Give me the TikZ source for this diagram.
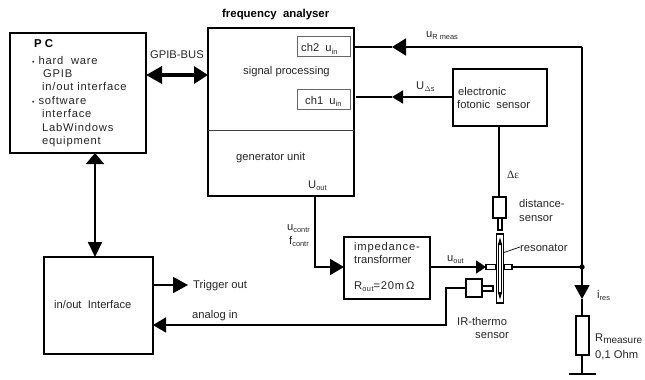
\documentclass[tikz,border=0pt]{standalone}
\usepackage{fontspec}
\usetikzlibrary{arrows.meta}
\setmainfont{Liberation Sans}
\newfontfamily\spaced[LetterSpace=7]{Liberation Sans}
\newfontfamily\serifsym{Liberation Serif}
\tikzset{
 x=1pt,y=-1pt,
 box/.style={draw,line width=1.6pt,fill=white,inner sep=0pt,outer sep=0pt},
 thinbox/.style={draw=black!60,line width=.8pt,inner sep=0pt,outer sep=0pt},
 stub/.style={draw,line width=1.2pt,fill=white,inner sep=0pt,outer sep=0pt},
 wire/.style={line width=1.8pt},
 lab/.style={inner sep=0pt,font=\fontsize{11.2}{13}\selectfont,text=black!85,anchor=base west},
 slab/.style={lab,font=\fontsize{11.2}{13}\spaced\selectfont},
 blab/.style={lab,font=\fontsize{11.4}{13}\bfseries\selectfont,text=black},
 hd/.style args={#1/#2}{-{Triangle[length=#1,width=#2]}},
}
\newcommand{\sub}[1]{\raisebox{-2.5pt}{\fontsize{7.4}{8}\selectfont #1}}
\newcommand{\dotb}{{\fontsize{7}{8}\selectfont\textbullet}\ }
\newcommand{\bx}[6][box]{\node[#1,minimum width=#4 pt,minimum height=#5 pt] (#2) at (#3) {#6};}
\begin{document}
\begin{tikzpicture}
\useasboundingbox (0,0) rectangle (645,380);
% boxes
\bx{pc}{78,93}{136}{120}{}
\bx{fa}{281,112}{146}{168}{}
\bx[thinbox]{chtwo}{323.5,46}{53}{20}{}
\bx[thinbox]{chone}{323.75,99.5}{53.5}{20}{}
\bx{fs}{500,97.5}{94}{57}{}
\bx{io}{98.5,305.5}{109}{97}{}
\bx{imp}{387,268}{86}{62}{}
\bx{dist}{499.5,207.5}{13}{21}{}
\bx[stub]{diststem}{500,224}{4}{12}{}
\bx[stub]{res}{500,268.5}{7.5}{69}{}
\bx[stub]{stubl}{491,267}{10}{5}{}
\bx[stub]{stubr}{508,267}{8}{5}{}
\bx{ir}{474,288}{16}{18}{}
\bx[stub]{irstem}{487.5,288.5}{11}{5}{}
\bx{rm}{582.5,335.5}{13}{39}{}
\draw[line width=.7pt,black!75] (fa.west |- 0,130.5) -- (fa.east |- 0,130.5);
% helper coordinates
\coordinate (xlink) at (95,0);
\coordinate (ygpib) at (0,75);
\coordinate (xs) at (499,0);
\coordinate (xu) at (315,0);
\coordinate (a1) at (392,47);
\coordinate (a2) at (392,97);
\coordinate (c1) at (582,47);
\coordinate (node1) at (582,267);
\coordinate (gnd) at (582,374);
\coordinate (gl) at (569,374);
\coordinate (gr) at (596,374);
\coordinate (itip) at (582,299);
\coordinate (trig) at (188,285);
\coordinate (c2) at (446,325);
\coordinate (c3) at (446,288);
\coordinate (c4) at (315,267);
\coordinate (r1) at (504,252.5);
\coordinate (r2) at (520,247);
% wires
\draw[wire,{Triangle[length=11pt,width=18pt]}-{Triangle[length=15pt,width=14pt]}] (xlink |- pc.south) -- (xlink |- io.north);
\draw[line width=3.4pt,{Triangle[length=16pt,width=17pt]}-{Triangle[length=14pt,width=17pt]}] (pc.east |- ygpib) -- (fa.west |- ygpib);
\draw[wire] (fa.east |- a1) -- (a1);
\draw[wire,hd=14pt/17pt] (c1) -- (a1);
\draw[wire] (c1) -- (node1);
\draw[wire,hd=11pt/13pt] (fs.west |- a2) -- (a2);
\draw[wire] (fa.east |- a2) ++(2,0) -- (a2);
\draw[wire] (xs |- fs.south) -- (xs |- dist.north);
\draw[wire,hd=14pt/16pt] (xu |- fa.south) -- (c4) -- (imp.west |- c4);
\draw[wire,hd=15pt/16pt] (io.east |- trig) -- (trig);
\draw[wire,hd=10pt/13pt] (imp.east |- stubl.west) -- (stubl.west);
\draw[wire] (stubr.east) -- (node1);
\fill (node1) circle (2.7pt);
\draw[wire,hd=14pt/15pt] (node1) -- (itip);
\draw[wire] (itip) -- (rm.north -| itip);
\draw[wire] (rm.south -| itip) -- (gnd);
\draw[wire] (gl) -- (gr);
\draw[wire,hd=13pt/15pt] (ir.west |- c3) -- (c3) -- (c2) -- (io.east |- c2);
% resonator interior
\fill[white] (498.5,238) rectangle (501.5,299);
\draw[line width=.7pt] (498.6,243) -- (498.6,294) (501.4,243) -- (501.4,294);
\fill (500,237.5) -- (497.8,245) -- (502.2,245) -- cycle;
\fill (500,299.5) -- (497.8,292) -- (502.2,292) -- cycle;
\draw[line width=.7pt] (r1) -- (r2);
% texts
\node[blab] (t1) at (222,17.5) {frequency\ \ analyser};
\node[blab] (t2) at (34,47.5) {P C};
\node[slab] (t3) at (32,64) {\dotb hard\ \ ware};
\node[slab] (t4) at (43,77) {GPIB};
\node[slab] (t5) at (42,90.5) {in/out interface};
\node[slab] (t6) at (32,104) {\dotb software};
\node[slab] (t7) at (42,117.5) {interface};
\node[slab] (t8) at (42,131) {LabWindows};
\node[slab] (t9) at (42,144) {equipment};
\node[lab] (t10) at (150,58.5) {GPIB-BUS};
\node[lab] (t11) at (301,51.5) {ch2\ \ u\sub{in}};
\node[lab] (t12) at (305,104) {ch1\ \ u\sub{in}};
\node[lab] (t13) at (243,74.5) {signal processing};
\node[lab] (t14) at (236,160) {generator unit};
\node[lab] (t15) at (308,188) {U\sub{out}};
\node[lab] (t16) at (426,37) {u\sub{R meas}};
\node[lab] (t17) at (416,89) {U\sub{$\Delta$s}};
\node[lab] (t18) at (458,95) {electronic};
\node[lab] (t19) at (457,108.5) {fotonic\ \ sensor};
\node[lab] (t20) at (507,178) {{\serifsym Δε}};
\node[lab] (t21) at (519,207) {distance-};
\node[lab] (t22) at (519,221) {sensor};
\node[lab] (t23) at (520,251) {resonator};
\node[lab] (t24) at (447,261) {u\sub{out}};
\node[lab] (t25) at (597,298) {i\sub{res}};
\node[lab] (t26) at (457,325) {IR-thermo};
\node[lab] (t27) at (475,338) {sensor};
\node[lab] (t28) at (595,341) {R\sub{\fontsize{10}{11}\selectfont measure}};
\node[lab] (t29) at (595,358.5) {0,1 Ohm};
\node[lab] (t30) at (287,230) {u\sub{contr}};
\node[lab] (t31) at (289,244) {f\sub{contr}};
\node[slab] (t32) at (354,250) {impedance-};
\node[lab] (t33) at (354,263) {transformer};
\node[slab] (t34) at (354,289) {R\sub{out}=20m\,Ω};
\node[lab] (t35) at (54,308) {in/out\ \ Interface};
\node[lab] (t36) at (193,288.5) {Trigger out};
\node[lab] (t37) at (192,318.5) {analog in};
\end{tikzpicture}
\end{document}
